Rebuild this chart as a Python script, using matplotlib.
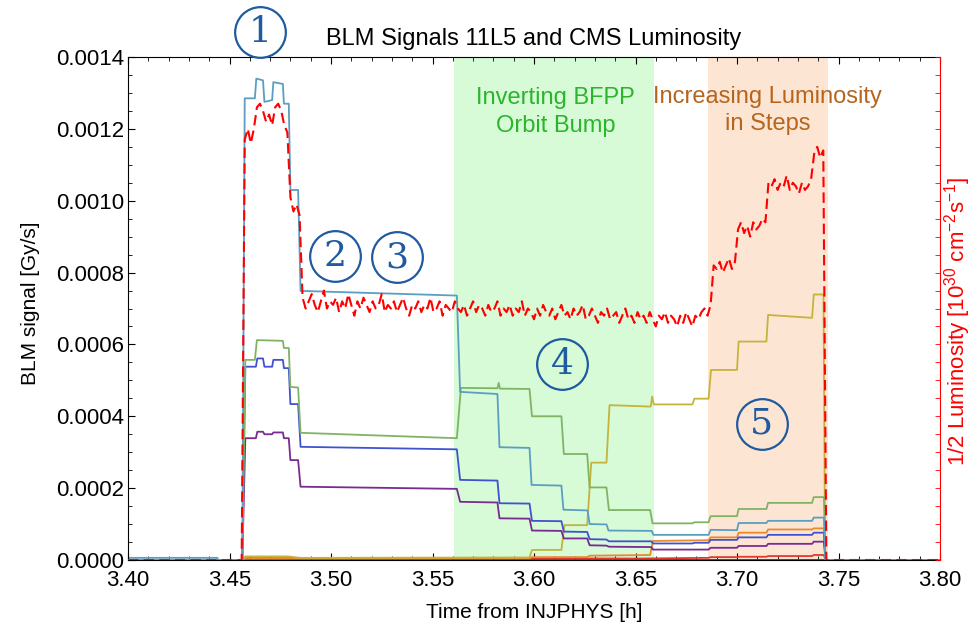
import numpy as np
import matplotlib
matplotlib.use('Agg')
import matplotlib.pyplot as plt
from matplotlib.ticker import MultipleLocator, FormatStrFormatter, NullFormatter

plt.rcParams['font.family'] = ['Liberation Sans', 'DejaVu Sans']
plt.rcParams['mathtext.default'] = 'regular'

#####################################################################
# Data: BLM signals as (time [h], signal [1e-4 Gy/s]) breakpoints
#####################################################################
teal = [(3.400, 0.06), (3.444, 0.06), (3.4445, 0), (3.4563, 0), (3.4575, 12.85),
        (3.4625, 12.85), (3.4632, 13.4), (3.4665, 13.35), (3.4672, 12.75), (3.4710, 12.8),
        (3.4716, 13.3), (3.4763, 13.25), (3.4768, 12.7), (3.4792, 12.7), (3.4800, 10.3),
        (3.4838, 10.3), (3.4850, 7.49), (3.5620, 7.36), (3.5636, 4.68), (3.5820, 4.62),
        (3.5830, 3.14), (3.5978, 3.12), (3.5988, 2.09), (3.6135, 2.07), (3.6145, 1.40),
        (3.6264, 1.38), (3.6274, 1.00), (3.6357, 0.99), (3.6367, 0.82), (3.6580, 0.81),
        (3.6588, 0.70), (3.6860, 0.70), (3.6870, 0.84), (3.7000, 0.83), (3.7008, 1.03),
        (3.7145, 1.03), (3.7153, 1.09), (3.7370, 1.09), (3.7378, 1.18), (3.7428, 1.18),
        (3.7436, 0), (3.800, 0)]
green = [(3.400, 0), (3.4563, 0), (3.4578, 5.57), (3.4625, 5.57), (3.4635, 6.12),
         (3.4763, 6.10), (3.4768, 5.90), (3.4792, 5.90), (3.4800, 4.82), (3.4838, 4.80),
         (3.4850, 3.54), (3.5620, 3.39), (3.5640, 4.79), (3.5820, 4.78), (3.5826, 4.93),
         (3.5832, 4.77), (3.5978, 4.76), (3.5990, 4.00), (3.6135, 4.00), (3.6147, 2.95),
         (3.6262, 2.95), (3.6274, 2.02), (3.6357, 2.02), (3.6369, 1.39), (3.6572, 1.39),
         (3.6584, 1.02), (3.6780, 1.02), (3.6790, 1.05), (3.6860, 1.05), (3.6870, 1.22),
         (3.7000, 1.22), (3.7008, 1.42), (3.7145, 1.42), (3.7153, 1.59), (3.7370, 1.59),
         (3.7378, 1.75), (3.7428, 1.75), (3.7436, 0), (3.800, 0)]
blue = [(3.400, 0), (3.4563, 0), (3.4578, 5.38), (3.4630, 5.38), (3.4637, 5.61),
        (3.4665, 5.61), (3.4672, 5.38), (3.4710, 5.38), (3.4716, 5.57), (3.4763, 5.57),
        (3.4768, 5.34), (3.4792, 5.34), (3.4800, 4.34), (3.4838, 4.34), (3.4850, 3.15),
        (3.5620, 3.08), (3.5636, 2.23), (3.5820, 2.21), (3.5830, 1.58), (3.5978, 1.57),
        (3.5990, 1.09), (3.6135, 1.08), (3.6147, 0.79), (3.6262, 0.78), (3.6274, 0.58),
        (3.6357, 0.57), (3.6369, 0.52), (3.6578, 0.52), (3.6586, 0.46), (3.6780, 0.46),
        (3.6790, 0.48), (3.6860, 0.48), (3.6870, 0.56), (3.7000, 0.56), (3.7008, 0.63),
        (3.7145, 0.63), (3.7153, 0.70), (3.7370, 0.70), (3.7378, 0.76), (3.7428, 0.76),
        (3.7436, 0), (3.800, 0)]
purple = [(3.400, 0), (3.4563, 0), (3.4578, 3.39), (3.4630, 3.39), (3.4637, 3.57),
          (3.4665, 3.57), (3.4672, 3.50), (3.4710, 3.50), (3.4716, 3.55), (3.4763, 3.55),
          (3.4768, 3.39), (3.4792, 3.39), (3.4800, 2.78), (3.4838, 2.78), (3.4850, 2.04),
          (3.5620, 1.98), (3.5636, 1.62), (3.5820, 1.60), (3.5830, 1.16), (3.5978, 1.15),
          (3.5990, 0.82), (3.6135, 0.81), (3.6147, 0.60), (3.6262, 0.60), (3.6274, 0.41),
          (3.6357, 0.40), (3.6369, 0.37), (3.6578, 0.36), (3.6586, 0.29), (3.6860, 0.29),
          (3.6870, 0.34), (3.7000, 0.34), (3.7008, 0.39), (3.7145, 0.39), (3.7153, 0.45),
          (3.7370, 0.45), (3.7378, 0.51), (3.7428, 0.51), (3.7436, 0), (3.800, 0)]
olive = [(3.400, 0), (3.4563, 0), (3.4578, 0.10), (3.4790, 0.10), (3.4850, 0.06),
         (3.5978, 0.07), (3.5990, 0.28), (3.6135, 0.28), (3.6150, 0.97), (3.6262, 0.97),
         (3.6282, 2.71), (3.6357, 2.71), (3.6372, 4.31), (3.6575, 4.27), (3.6582, 4.55),
         (3.6590, 4.33), (3.6780, 4.33), (3.6790, 4.49), (3.6860, 4.49), (3.6872, 5.29),
         (3.7000, 5.29), (3.7008, 6.08), (3.7145, 6.08), (3.7153, 6.82), (3.7370, 6.74),
         (3.7378, 7.39), (3.7426, 7.39), (3.7434, 0), (3.800, 0)]
orange = [(3.400, 0), (3.4563, 0), (3.4578, 0.04), (3.5978, 0.05), (3.5990, 0.08),
          (3.6262, 0.08), (3.6274, 0.12), (3.6572, 0.14), (3.6586, 0.53), (3.6860, 0.55),
          (3.6870, 0.63), (3.7000, 0.63), (3.7008, 0.76), (3.7145, 0.76), (3.7153, 0.85),
          (3.7370, 0.85), (3.7378, 0.88), (3.7428, 0.88), (3.7436, 0), (3.800, 0)]
red = [(3.400, 0), (3.4563, 0), (3.4578, 0.05), (3.5600, 0.05), (3.6500, 0.04),
       (3.6860, 0.06), (3.6870, 0.08), (3.7000, 0.08), (3.7008, 0.09), (3.7145, 0.09),
       (3.7153, 0.11), (3.7370, 0.11), (3.7378, 0.14), (3.7428, 0.14), (3.7436, 0),
       (3.800, 0)]
brown = [(3.400, 0.01), (3.800, 0.01)]

blm_series = [brown, red, orange, olive, purple, blue, green, teal]
blm_colors = ['#7d2a1c', '#e03a30', '#e8892e', '#c4b43c', '#7a2a90',
              '#4052d0', '#80b464', '#5c9ec2']

# CMS luminosity (arbitrary scale on the right axis), sampled every 0.0015 h from 3.456 h
lum_start = 3.456
lum_step = 0.0015
lum_vals = [0,
            1.17, 1.20, 1.16, 1.20, 1.26, 1.27, 1.25, 1.22, 1.24, 1.21, 1.26, 1.27, 1.25, 1.21, 1.19,
            1.01, 0.97, 0.99, 0.96,
            0.73, 0.70, 0.72, 0.74, 0.71, 0.69, 0.72, 0.75, 0.70, 0.72,
            0.71, 0.73, 0.69, 0.72, 0.70, 0.74, 0.71, 0.68, 0.72, 0.70,
            0.73, 0.71, 0.69, 0.72, 0.70, 0.71, 0.74, 0.69, 0.71, 0.70,
            0.72, 0.69, 0.71, 0.73, 0.70, 0.68, 0.71, 0.70, 0.72, 0.69,
            0.71, 0.70, 0.73, 0.69, 0.70, 0.72, 0.68, 0.71, 0.70, 0.69,
            0.72, 0.70, 0.69, 0.71, 0.68, 0.70, 0.72, 0.69, 0.71, 0.70,
            0.68, 0.71, 0.69, 0.70, 0.72, 0.68, 0.70, 0.69, 0.71, 0.68,
            0.70, 0.69, 0.72, 0.68, 0.70, 0.69, 0.67, 0.70, 0.68, 0.71,
            0.69, 0.68, 0.70, 0.67, 0.69, 0.71, 0.68, 0.69, 0.67, 0.70,
            0.68, 0.69, 0.71, 0.67, 0.68, 0.70, 0.68, 0.66, 0.69, 0.68,
            0.70, 0.67, 0.68, 0.69, 0.66, 0.68, 0.70, 0.67, 0.68, 0.66,
            0.69, 0.67, 0.68, 0.66, 0.69, 0.67, 0.65, 0.68, 0.67, 0.69,
            0.66, 0.68, 0.67, 0.65, 0.68, 0.66, 0.69, 0.67, 0.65, 0.68,
            0.67, 0.69, 0.70, 0.68, 0.71,
            0.82, 0.81, 0.83, 0.80, 0.82, 0.84, 0.81, 0.83,
            0.92, 0.94, 0.91, 0.93, 0.90, 0.94, 0.92, 0.93, 0.95, 0.94,
            1.05, 1.04, 1.06, 1.03, 1.05, 1.04, 1.07, 1.03, 1.05, 1.04, 1.02, 1.05, 1.03, 1.04, 1.06,
            1.13, 1.15, 1.12, 1.14,
            0]

# shaded phases and annotations
phase_green = (3.5606, 3.6590)
phase_orange = (3.6856, 3.7447)
circle_labels = ['1', '2', '3', '4', '5']
circle_t = [3.4652, 3.5021, 3.5323, 3.6138, 3.7121]
circle_v = [0.001469, 0.000846, 0.000843, 0.000545, 0.000379]

#####################################################################
# Plot
#####################################################################
fig = plt.figure(figsize=(9.73, 6.27), dpi=100)
ax = fig.add_axes([128 / 973, 1 - 560 / 627, 812 / 973, 503 / 627])

ax.axvspan(*phase_green, color='#d7fad7', lw=0, zorder=0)
ax.axvspan(*phase_orange, color='#fde5d4', lw=0, zorder=0)

for series, c in zip(blm_series, blm_colors):
    t = [p[0] for p in series]
    v = np.array([p[1] for p in series]) * 1e-4
    ax.plot(t, v, color=c, lw=1.3, zorder=2)

ax.set_xlim(3.40, 3.80)
ax.set_ylim(0, 0.0014)
ax.xaxis.set_major_locator(MultipleLocator(0.05))
ax.xaxis.set_minor_locator(MultipleLocator(0.01))
ax.yaxis.set_major_locator(MultipleLocator(0.0002))
ax.yaxis.set_minor_locator(MultipleLocator(0.00005))
ax.xaxis.set_major_formatter(FormatStrFormatter('%.2f'))
ax.yaxis.set_major_formatter(FormatStrFormatter('%.4f'))
ax.tick_params(which='both', direction='in', top=True, right=False, labelsize=16)
ax.tick_params(which='major', length=5, width=0.8)
ax.tick_params(which='minor', length=3, width=0.6)
ax.tick_params(axis='x', pad=7)
ax.tick_params(axis='y', pad=3)
ax.spines['right'].set_visible(False)

ax.set_xlabel('Time from INJPHYS [h]', fontsize=15)
ax.xaxis.set_label_coords(0.5, -0.085)
ax.set_ylabel('BLM signal [Gy/s]', fontsize=15)
ax.yaxis.set_label_coords(-0.108, 0.51)
ax.set_title('BLM Signals 11L5 and CMS Luminosity', fontsize=17, pad=8.5)

ax.text(3.6106, 0.001247, 'Inverting BFPP\nOrbit Bump', ha='center', va='center',
        color='#2bb52b', fontsize=17, linespacing=1.3, zorder=3)
ax.text(3.7151, 0.001252, 'Increasing Luminosity\nin Steps', ha='center', va='center',
        color='#b5651d', fontsize=17, linespacing=1.3, zorder=3)

# right axis: luminosity
ax2 = ax.twinx()
lum_t = [3.40] + [lum_start + lum_step * k for k in range(len(lum_vals))] + [3.80]
lum_v = [0] + lum_vals + [0]
ax2.plot(lum_t, lum_v, color='#ff0000', lw=1.5, ls=(0, (5, 2.5)))
ax2.set_ylim(0, 1.4)
ax2.yaxis.set_major_locator(MultipleLocator(0.05))
ax2.yaxis.set_major_formatter(NullFormatter())
ax2.tick_params(axis='y', direction='in', length=3.5, width=0.6, colors='red')
for s in ['top', 'left', 'bottom']:
    ax2.spines[s].set_visible(False)
ax2.spines['right'].set_color('red')
ax2.text(1.022, 0.474, '1/2 Luminosity [10$^{30}$ cm$^{-2}$s$^{-1}$]', transform=ax2.transAxes,
         rotation=90, ha='center', va='center', color='red', fontsize=16)

# circled step numbers
circ_color = '#1f5b9e'
for lab, t, v in zip(circle_labels, circle_t, circle_v):
    ax2.plot([t], [v * 1000], 'o', ms=36.5, mfc='none', mec=circ_color, mew=1.6, clip_on=False)
    ax2.text(t, v * 1000, lab, ha='center', va='center', color=circ_color, fontsize=26,
             family='DejaVu Serif', clip_on=False)

fig.savefig('out.png', dpi=100)
